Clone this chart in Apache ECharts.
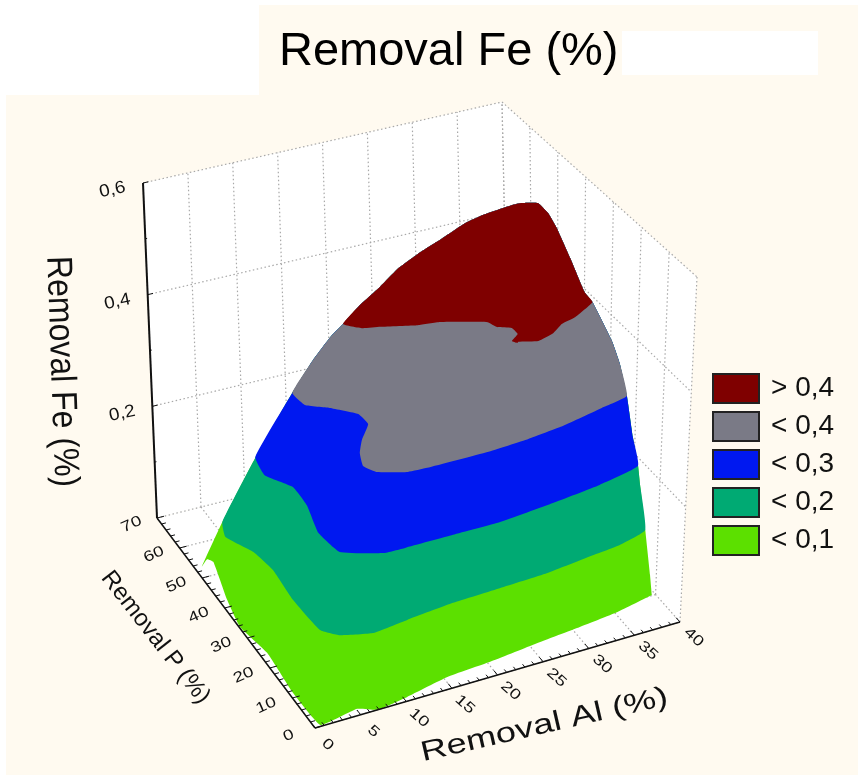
<!DOCTYPE html><html><head><meta charset="utf-8"><script src="https://cdn.jsdelivr.net/npm/echarts@6/dist/echarts.min.js"></script>
<style>html,body{margin:0;background:#fff}#c{width:858px;height:775px}</style></head><body><div id="c"></div>
<script>
// Axis ticks
const alTicks=[0,5,10,15,20,25,30,35,40];
const pTicks=[0,10,20,30,40,50,60,70];
const feTicks=[0.2,0.4,0.6];
const feLabels=['0,2','0,4','0,6'];
// Legend, highest band first
const bandNames=['> 0,4','< 0,4','< 0,3','< 0,2','< 0,1'];
const bandColors=['#7F0000','#7A7A86','#0018F0','#00AA73','#5CE000'];
const levels=[0.4,0.3,0.2,0.1];
// Contour lines of the surface as [Al, P] at Fe = level
const contour04=[[15.6,47.3],[17.0,44.6],[18.7,43.7],[22.2,41.4],[24.4,40.7],[28.6,37.1],[29.0,34.9],[30.2,33.5],[30.2,31.2],[29.1,29.5],[29.4,28.5],[29.6,28.8],[31.4,27.5],[33.4,28.8],[34.9,30.9],[36.7,32.0],[39.5,35.3]];
const contour03=[[9.9,47.4],[10.1,42.9],[12.1,40.2],[14.2,36.3],[14.3,32.6],[12.5,28.4],[11.3,24.7],[10.6,20.7],[11.4,17.8],[14.1,15.5],[16.1,15.2],[22.6,15.2],[27.2,15.9],[31.3,17.1],[36.1,19.4],[39.3,21.1]];
const contour02=[[5.8,48.0],[5.3,42.1],[7.0,36.6],[6.9,30.3],[5.9,21.5],[6.4,14.4],[10.2,10.7],[12.5,10.5],[17.7,10.5],[22.8,10.5],[28.9,11.9],[34.4,13.5],[39.3,16.1]];
const contour01=[[2.0,48.2],[1.2,43.7],[2.7,37.4],[3.2,30.9],[2.9,20.9],[3.2,10.4],[4.6,7.4],[7.7,5.4],[11.7,6.4],[17.0,7.6],[22.3,8.1],[27.5,8.6],[33.0,10.1],[36.1,10.9],[39.5,13.2]];
// Surface rim as [Al, P, Fe], from the right corner over the crest to the left
const rim=[[38.7,6.9,0.02],[38.7,7.9,0.05],[39.5,13.2,0.1],[39.5,15.9,0.17],[39.3,16.1,0.2],[38.8,16.7,0.25],[39.3,21.1,0.3],[39.0,23.1,0.35],[39.3,27.3,0.37],[39.5,35.3,0.4],[39.2,37.2,0.41],[39.0,42.0,0.45],[38.0,43.6,0.5],[37.6,45.5,0.52],[36.6,45.9,0.54],[35.2,47.1,0.54],[34.2,47.2,0.54],[31.2,48.0,0.53],[29.4,48.5,0.52],[26.4,48.4,0.5],[24.5,49.4,0.48],[22.3,49.7,0.46],[20.1,48.9,0.44],[17.8,48.4,0.42],[15.6,47.3,0.4],[14.6,48.2,0.38],[12.2,47.2,0.35],[9.9,47.4,0.3],[5.7,47.7,0.2],[2.0,48.2,0.1],[0,50.0,0.02]];
// Foot of the surface on the floor as [Al, P]
const foot=[[1.8,54.9],[2.2,53.7],[0.8,42.1],[0.1,33.6],[0.8,24.4],[0.4,11.3],[0.7,0.4],[5.1,1.9],[6.9,0],[10.4,1.2],[15.4,3.5],[20.3,4.3],[25.3,5.6],[30.5,6.8],[35.3,8.1],[39.7,10.2]];

// Calibration of the 3D view: where the box corners fall in the picture plane
const view={floor:[[315,728],[680,622],[157,518],[509,430]],top:[[312,373],[697,277],[143,183],[502,102]]};
const AL=40,P=70,FE=0.6;
function project(al,p,fe){
  const u=al/AL,v=p/P,w=fe/FE,out=[0,0];
  for(let i=0;i<2;i++){
    const f=view.floor,t=view.top;
    const b=(1-u)*(1-v)*f[0][i]+u*(1-v)*f[1][i]+(1-u)*v*f[2][i]+u*v*f[3][i];
    const c=(1-u)*(1-v)*t[0][i]+u*(1-v)*t[1][i]+(1-u)*v*t[2][i]+u*v*t[3][i];
    out[i]=b*(1-w)+c*w;
  }
  return out;
}
const at=(api,al,p,fe)=>api.coord(project(al,p,fe));
const FONT='"Liberation Sans",Arial,sans-serif';
function seg(api,a,b,style){const s=at(api,...a),e=at(api,...b);
  return {type:'line',shape:{x1:s[0],y1:s[1],x2:e[0],y2:e[1]},style};}
function txt(api,a,text,size,deg,scaleX,scaleY){const c=at(api,...a);
  return {type:'text',x:c[0],y:c[1],rotation:deg*Math.PI/180,scaleX:scaleX||1,scaleY:scaleY||1,
    style:{text,fill:'#111',font:size+'px '+FONT,align:'center',verticalAlign:'middle'}};}
function custom(name,renderItem,extra){return Object.assign({type:'custom',name,coordinateSystem:'cartesian2d',silent:true,clip:false,data:[[0,0]],renderItem,animation:false},extra||{});}
function poly(pts,color){return custom(null,(p,api)=>({type:'polygon',shape:{points:pts.map(q=>at(api,q[0],q[1],q[2])),smooth:0.12},style:{fill:color}}));}

const gridStyle={stroke:'#A8A8A8',lineWidth:1.2,lineDash:[1.5,2.5]};
const wallGrid=(p,api)=>{
  const ch=[];
  const corners=[[0,70,0],[40,70,0],[40,0,0],[0,0,0]];
  const wall=(a)=>({type:'polygon',shape:{points:a.map(q=>at(api,...q))},style:{fill:'#fff'}});
  ch.push(wall([[0,70,.6],[40,70,.6],[40,70,0],[0,70,0]]),wall([[40,70,.6],[40,0,.6],[40,0,0],[40,70,0]]),wall(corners));
  alTicks.forEach(a=>{ch.push(seg(api,[a,70,0],[a,70,.6],gridStyle));ch.push(seg(api,[a,70,0],[a,0,0],gridStyle));});
  pTicks.forEach(q=>{ch.push(seg(api,[40,q,0],[40,q,.6],gridStyle));ch.push(seg(api,[0,q,0],[40,q,0],gridStyle));});
  feTicks.forEach(f=>{ch.push(seg(api,[0,70,f],[40,70,f],gridStyle));ch.push(seg(api,[40,70,f],[40,0,f],gridStyle));});
  return {type:'group',children:ch};
};
const axes=(p,api)=>{
  const ch=[],ink={stroke:'#111',lineWidth:1};
  ch.push(seg(api,[0,70,.6],[0,70,0],{stroke:'#111',lineWidth:2}),seg(api,[0,70,0],[0,0,0],{stroke:'#111',lineWidth:1.5}),seg(api,[0,0,0],[40,0,0],{stroke:'#111',lineWidth:1.5}));
  for(let a=0;a<=AL;a++)ch.push(seg(api,[a,0,0],[a,a%5?1:1.6,0],ink));
  for(let q=0;q<=P;q+=2)ch.push(seg(api,[0,q,0],[q%10?.5:.8,q,0],ink));
  for(let i=1;i<=6;i++){const f=i/10;ch.push(seg(api,[0,70,f],[i%2?.2:.6,70,f],ink));}
  alTicks.forEach(a=>ch.push(txt(api,[a,-5.6,0],String(a),18,-42,1.05,.82)));
  pTicks.forEach(q=>ch.push(txt(api,[-2.9,q,0],String(q),18,24,1.05,.82)));
  feTicks.forEach((f,i)=>ch.push(txt(api,[-3.4,70,f],feLabels[i],19,12,1,.92)));
  ch.push(txt(api,[20.5,-18,0],'Removal Al (%)',28,13,1.3));
  ch.push(txt(api,[-8.5,37,0],'Removal P (%)',24,-52));
  ch.push(txt(api,[-10,70,.3],'Removal Fe (%)',32,-88,1,1.12));
  return {type:'group',children:ch};
};
const regions=[
  contour04.map(q=>[q[0],q[1],levels[0]]).concat(rim.filter(q=>q[2]>levels[0])),
  contour03.map(q=>[q[0],q[1],levels[1]]).concat(rim.filter(q=>q[2]>levels[1])),
  contour02.map(q=>[q[0],q[1],levels[2]]).concat(rim.filter(q=>q[2]>levels[2])),
  contour01.map(q=>[q[0],q[1],levels[3]]).concat(rim.filter(q=>q[2]>levels[3])),
  foot.map(q=>[q[0],q[1],0]).concat(rim)
];
const bandSeries=bandNames.map((n,i)=>{const s=poly(regions[i],bandColors[i]);s.name=n;s.itemStyle={color:bandColors[i]};return s;}).reverse();

const chart=echarts.init(document.getElementById('c'),null,{renderer:'canvas'});
chart.setOption({
  animation:false,backgroundColor:'#fff',
  title:{text:'Removal Fe (%)',left:279,top:29,padding:0,textStyle:{fontFamily:FONT,fontSize:47,fontWeight:'normal',color:'#000'}},
  grid:{left:0,right:0,top:0,bottom:0},
  xAxis:{type:'value',min:0,max:858,show:false},
  yAxis:{type:'value',min:0,max:775,inverse:true,show:false},
  legend:{data:bandNames,orient:'vertical',left:712,top:373,padding:0,itemWidth:46,itemHeight:29,itemGap:7,icon:'rect',selectedMode:false,
    itemStyle:{borderColor:'#222',borderWidth:2},
    textStyle:{fontFamily:FONT,fontSize:28,color:'#111',lineHeight:29,padding:[0,0,0,7]}},
  graphic:[
    {type:'rect',z:0,shape:{x:6,y:95,width:852,height:680},style:{fill:'#FFFAF0'}},
    {type:'rect',z:0,shape:{x:259,y:5,width:599,height:90},style:{fill:'#FFFAF0'}},
    {type:'rect',z:0,shape:{x:622,y:31,width:196,height:44},style:{fill:'#fff'}}
  ],
  series:[custom('walls',wallGrid)].concat(bandSeries,[custom('axes',axes)])
});
</script></body></html>
